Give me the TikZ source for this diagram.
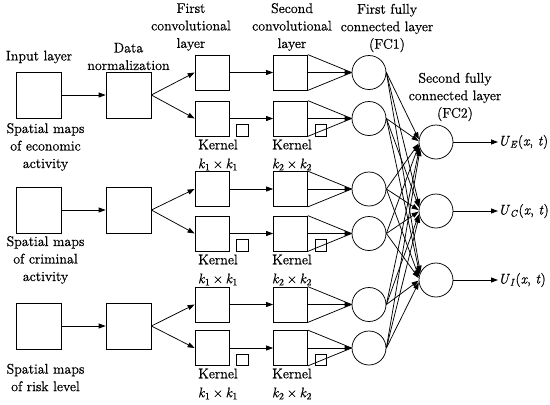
\documentclass[tikz,border=0pt]{standalone}
\usepackage{fontspec}
\setmainfont{Latin Modern Roman}[FakeBold=0.6]
\usetikzlibrary{arrows.meta}
\newcommand{\kk}[1]{\textit{k}\textsubscript{#1}\,×\,\textit{k}\textsubscript{#1}}
\newcommand{\uu}[1]{\textit{U}\textsubscript{\textit{#1}}(\textit{x}, \textit{t})}
\begin{document}
\begin{tikzpicture}[x=1pt,y=-1pt,line width=0.75pt,
  every node/.style={font=\fontsize{14}{17.5}\selectfont, inner sep=0pt},
  inbox/.style={draw, minimum width=45pt, minimum height=46pt},
  cbox/.style={draw, minimum width=34pt, minimum height=35pt},
  ksq/.style={draw, minimum size=11.5pt, anchor=south west},
  neuron/.style={draw, circle, minimum size=34pt},
  lbl/.style={align=center},
  arr/.style={-{Triangle[length=7pt,width=5pt]}}]
\useasboundingbox (0,0) rectangle (550,405);

% titles
\node[lbl] (tin) at (39,57) {Input layer};
\node[lbl] (tdn) at (128.5,56.5) {Data\\normalization};
\node[lbl] (tc1) at (191,27) {First\\convolutional\\layer};
\node[lbl] (tc2) at (292,27) {Second\\convolutional\\layer};
\node[lbl] (tf1) at (387,28) {First fully\\connected layer\\(FC1)};
\node[lbl] (tf2) at (455,97) {Second fully\\connected layer\\(FC2)};

% source labels
\node[lbl] (s1) at (45.5,147) {Spatial maps\\of economic\\activity};
\node[lbl] (s2) at (45.5,260) {Spatial maps\\of criminal\\activity};
\node[lbl] (s3) at (45.5,377.5) {Spatial maps\\of risk level};

% groups
\foreach \g/\yc/\ya/\yb/\yk in {1/95/72.5/118.5/155, 2/210/189/233.5/270, 3/326/304.5/348/384} {
  \node[inbox] (in\g) at (38.5,\yc) {};
  \node[inbox] (dn\g) at (128.5,\yc) {};
  \node[cbox] (ca\g) at (212,\ya) {};
  \node[cbox] (cb\g) at (212,\yb) {};
  \node[cbox] (da\g) at (290.5,\ya) {};
  \node[cbox] (db\g) at (290.5,\yb) {};
  \node[neuron] (fa\g) at (369,\ya) {};
  \node[neuron] (fb\g) at (369,\yb) {};
  \node[ksq] (ka\g) at ([xshift=7pt]cb\g.south east) {};
  \node[ksq] (kb\g) at ([xshift=7pt]db\g.south east) {};
  \node[lbl] (kla\g) at (218,\yk) {Kernel\\[1.5pt]\kk{1}};
  \node[lbl] (klb\g) at (292,\yk) {Kernel\\[1.5pt]\kk{2}};
  \draw[arr] (in\g) -- (dn\g);
  \draw[arr] (dn\g.east) -- (ca\g.west);
  \draw[arr] (dn\g.east) -- (cb\g.west);
  \draw[arr] (ca\g) -- (da\g);
  \draw[arr] (cb\g) -- (db\g);
  \foreach \c in {a,b} {
    \draw (d\c\g.north east) -- (f\c\g.west);
    \draw (d\c\g.south east) -- (f\c\g.west);
    \draw[arr] (d\c\g.east) -- (f\c\g.west);
  }
}

% second fully connected layer
\node[neuron] (o1) at (436,142) {};
\node[neuron] (o2) at (436,211) {};
\node[neuron] (o3) at (436,280) {};

\foreach \s/\ys in {fa1/72.5, fb1/118.5, fa2/189, fb2/233.5, fa3/304.5, fb3/348} {
  \foreach \t/\yt in {o1/142, o2/211, o3/280} {
    \pgfmathsetmacro\ang{180-0.12*(\yt-\ys)}
    \draw[arr] (\s.east) -- (\t.\ang);
  }
}

% outputs
\node[anchor=west] (u1) at (498,142) {\uu{E}};
\node[anchor=west] (u2) at (498,211) {\uu{C}};
\node[anchor=west] (u3) at (498,280) {\uu{I}};
\draw[arr] (o1) -- (u1);
\draw[arr] (o2) -- (u2);
\draw[arr] (o3) -- (u3);
\end{tikzpicture}
\end{document}
